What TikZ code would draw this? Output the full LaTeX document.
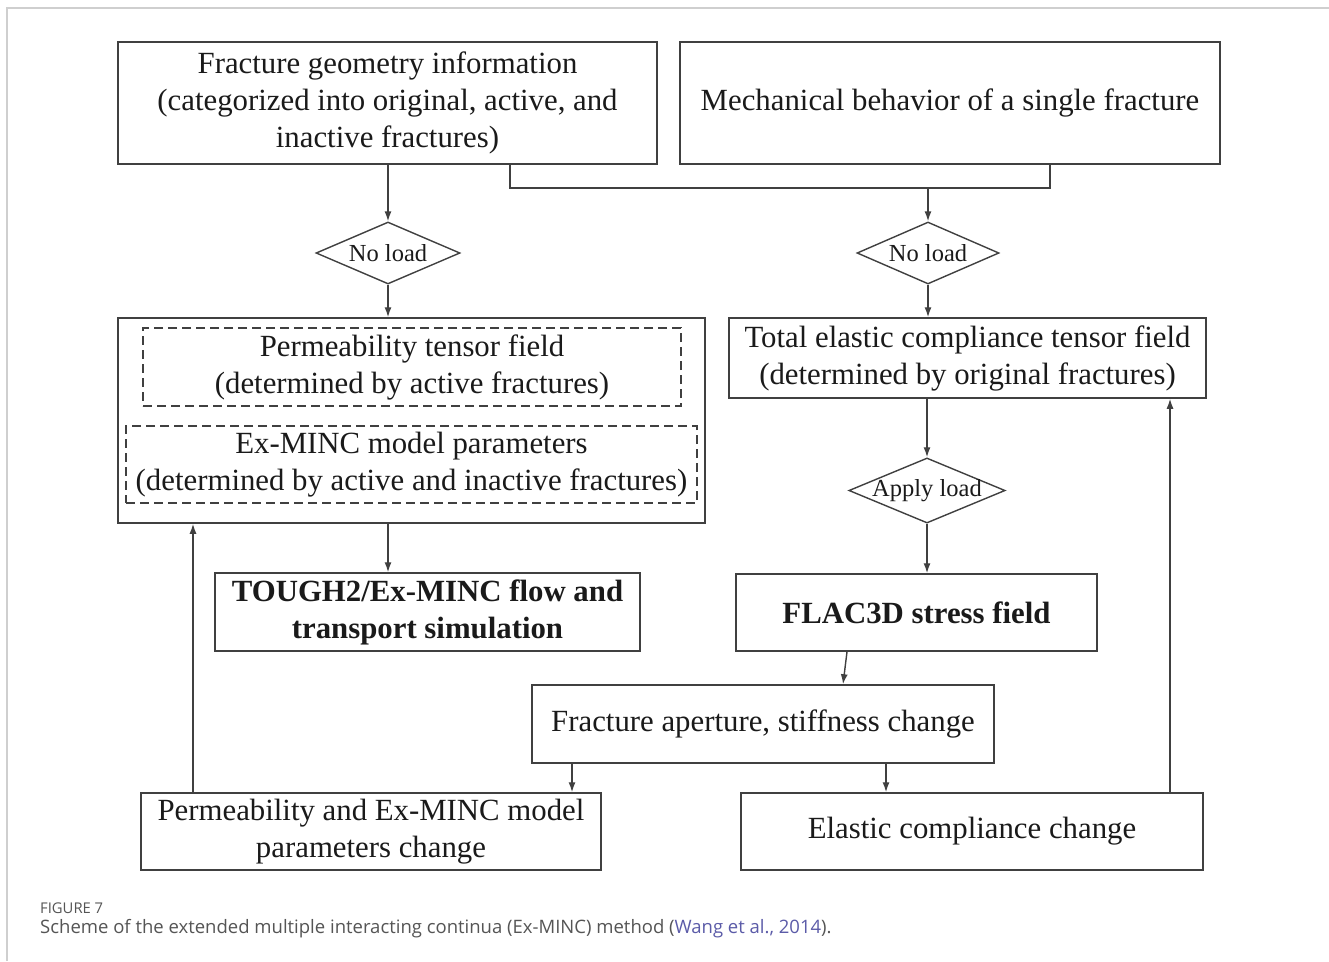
\documentclass[tikz,border=0pt]{standalone}
\usepackage{fontspec}
\setmainfont{Liberation Serif}
\newfontfamily\capfont{Open Sans}
\usetikzlibrary{shapes.geometric,arrows.meta}
\definecolor{boxline}{HTML}{404040}
\definecolor{txt}{HTML}{1A1A1A}
\definecolor{capgray}{HTML}{555555}
\definecolor{caplink}{HTML}{5B5BA8}
\definecolor{frame}{HTML}{CFCFCF}
\tikzset{
  box/.style={draw=boxline, line width=1.5pt, text=txt, align=center, inner sep=0pt,
    font=\fontsize{30.8}{37}\selectfont},
  boldbox/.style={box, font=\fontsize{30.8}{37}\selectfont\bfseries},
  dbox/.style={box, dashed, dash pattern=on 9pt off 5pt, line width=1.3pt},
  dec/.style={draw=boxline, line width=1.4pt, shape=diamond, aspect=2.4, inner sep=-1pt,
    text=txt, font=\fontsize{24.5}{28}\selectfont},
  arr/.style={draw=boxline, line width=1.4pt, -{Latex[length=10pt,width=7pt]}},
  con/.style={draw=boxline, line width=1.4pt},
}
\begin{document}
\begin{tikzpicture}[x=1pt,y=-1pt]
\useasboundingbox (0,0) rectangle (1329,961);
\fill[white] (0,0) rectangle (1329,961);
\draw[frame, line width=1.6pt] (7,961) -- (7,8) -- (1329,8);

\node[box, minimum width=539pt, minimum height=122pt] (A) at (387.5,103)
  {\rule{0pt}{0pt}\raisebox{-3pt}{\begin{tabular}{@{}c@{}}Fracture geometry information\\(categorized into original, active, and\\inactive fractures)\end{tabular}}};
\node[box, minimum width=540pt, minimum height=122pt] (B) at (950,103)
  {\raisebox{-3pt}{Mechanical behavior of a single fracture}};

\coordinate (jl) at (510,188);
\coordinate (jr) at (1050,188);
\coordinate (jm) at (928,188);

\node[dec, minimum width=144pt, minimum height=62pt] (dL) at (388,253) {No load};
\node[dec, minimum width=142pt, minimum height=62pt] (dR) at (928,253) {No load};

\node[box, minimum width=587pt, minimum height=205pt] (C) at (411.5,420.5) {};
\node[dbox, minimum width=538pt, minimum height=78pt] (C1) at (412,367)
  {Permeability tensor field\\(determined by active fractures)};
\node[dbox, minimum width=571pt, minimum height=77pt] (C2) at (411.5,464.5)
  {Ex-MINC model parameters\\(determined by active and inactive fractures)};

\node[box, minimum width=477pt, minimum height=80pt] (D) at (967.5,358)
  {Total elastic compliance tensor field\\(determined by original fractures)};

\node[dec] (dA) at (927,490.5) {Apply load};

\node[boldbox, minimum width=425pt, minimum height=78pt] (E) at (427.5,612)
  {TOUGH2/Ex-MINC flow and\\transport simulation};
\node[boldbox, minimum width=361pt, minimum height=77pt] (F) at (916.5,612.5)
  {FLAC3D stress field};
\node[box, minimum width=462pt, minimum height=78pt] (G) at (763,724)
  {\raisebox{-3pt}{Fracture aperture, stiffness change}};
\node[box, minimum width=460pt, minimum height=77pt] (H) at (371,831.5)
  {Permeability and Ex-MINC model\\parameters change};
\node[box, minimum width=462pt, minimum height=77pt] (I) at (972,831.5)
  {\raisebox{-3pt}{Elastic compliance change}};

% connectors
\draw[con] (A.south -| jl) -- (jl) -- (jr) -- (B.south -| jr);
\draw[arr] (jm) -- (dR.north);
\draw[arr] (A.south -| dL.north) -- (dL.north);
\draw[arr] (dL.south) -- (dL.south |- C.north);
\draw[arr] (dR.south) -- (dR.south |- D.north);
\draw[arr] (dA.north |- D.south) -- (dA.north);
\draw[arr] (dA.south) -- (dA.south |- F.north);
\draw[arr] (C.south -| dL.south) -- (E.north -| dL.south);
\draw[arr] ([xshift=-69.5pt]F.south) -- ([xshift=80pt]G.north);
\draw[arr] ([xshift=-191pt]G.south) -- ([xshift=-191pt]G.south |- H.north);
\draw[arr] ([xshift=123pt]G.south) -- ([xshift=123pt]G.south |- I.north);
\draw[arr] ([xshift=-178pt]H.north) -- ([xshift=-178pt]H.north |- C.south);
\draw[arr] ([xshift=198pt]I.north) -- ([xshift=198pt]I.north |- D.south);

% caption
\node[anchor=base west, inner sep=0pt, text=capgray, font=\capfont\fontsize{14.8}{17}\selectfont] (cap1) at (40,913) {FIGURE 7};
\node[anchor=base west, inner sep=0pt, text=capgray, font=\capfont\fontsize{18.5}{22}\selectfont] (cap2) at (40,933)
  {Scheme of the extended multiple interacting continua (Ex-MINC) method (\textcolor{caplink}{Wang et al., 2014}).};
\end{tikzpicture}
\end{document}
